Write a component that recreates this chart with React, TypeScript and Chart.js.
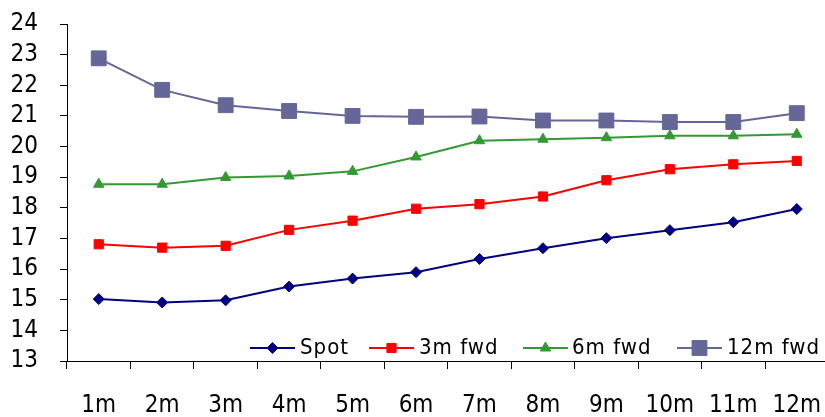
import React, { useEffect, useRef } from "react";
import { Chart, registerables } from "chart.js";
import { drawPoint } from "chart.js/helpers";

Chart.register(...registerables);

const categories = ["1m", "2m", "3m", "4m", "5m", "6m", "7m", "8m", "9m", "10m", "11m", "12m"];
const spot = [15.02, 14.91, 14.98, 15.43, 15.69, 15.9, 16.33, 16.68, 17.01, 17.27, 17.53, 17.96];
const fwd3m = [16.81, 16.7, 16.76, 17.28, 17.58, 17.97, 18.12, 18.37, 18.9, 19.26, 19.42, 19.53];
const fwd6m = [18.77, 18.77, 18.99, 19.04, 19.19, 19.66, 20.19, 20.24, 20.29, 20.35, 20.35, 20.4];
const fwd12m = [22.88, 21.85, 21.35, 21.16, 21.0, 20.97, 20.98, 20.85, 20.85, 20.8, 20.8, 21.09];
const seriesNames = ["Spot", "3m fwd", "6m fwd", "12m fwd"];
const yMin = 13;
const yMax = 24;
const yStep = 1;

const FONT = "'DejaVu Sans Condensed', 'DejaVu Sans', sans-serif";

const legendPlugin = {
  id: "insideLegend",
  afterDraw(chart: any) {
    const ctx = chart.ctx;
    const y = 348;
    const items = [
      { x0: 250, text: 300 },
      { x0: 369, text: 419 },
      { x0: 523, text: 572 },
      { x0: 677, text: 727 },
    ];
    ctx.save();
    chart.data.datasets.forEach((ds: any, i: number) => {
      const it = items[i];
      ctx.strokeStyle = ds.borderColor;
      ctx.lineWidth = ds.borderWidth;
      ctx.beginPath();
      ctx.moveTo(it.x0, y);
      ctx.lineTo(it.x0 + 45, y);
      ctx.stroke();
      ctx.fillStyle = ds.pointBackgroundColor;
      ctx.strokeStyle = ds.pointBorderColor;
      ctx.lineWidth = 1;
      drawPoint(ctx, { pointStyle: ds.pointStyle, radius: ds.pointRadius, borderWidth: 1, rotation: 0 }, it.x0 + 22.5, y);
      ctx.fillStyle = "#000";
      ctx.font = `22px ${FONT}`;
      try {
        (ctx as any).letterSpacing = "1px";
      } catch (e) {}
      ctx.textBaseline = "middle";
      ctx.textAlign = "left";
      ctx.fillText(ds.label, it.text, y);
      try {
        (ctx as any).letterSpacing = "0px";
      } catch (e) {}
    });
    ctx.restore();
  },
};

export default function App() {
  const ref = useRef<HTMLCanvasElement | null>(null);
  useEffect(() => {
    if (!ref.current) return;
    const mk = (label: string, data: number[], color: string, style: string, r: number, bw: number) => ({
      label,
      data,
      borderColor: color,
      backgroundColor: color,
      pointBackgroundColor: color,
      pointBorderColor: color,
      pointStyle: style,
      pointRadius: r,
      pointHoverRadius: r,
      borderWidth: bw,
      pointBorderWidth: 1,
      tension: 0,
    });
    const chart = new Chart(ref.current, {
      type: "line",
      data: {
        labels: categories,
        datasets: [
          mk(seriesNames[0], spot, "#000080", "rectRot", 5.5, 2),
          mk(seriesNames[1], fwd3m, "#FF0000", "rect", 6.5, 2),
          mk(seriesNames[2], fwd6m, "#339933", "triangle", 6, 2),
          mk(seriesNames[3], fwd12m, "#666699", "rect", 10.5, 2),
        ],
      },
      options: {
        animation: false,
        responsive: false,
        devicePixelRatio: 1,
        layout: { padding: { top: 24, right: 9, left: 0, bottom: 0 } },
        plugins: { legend: { display: false }, tooltip: { enabled: false } },
        scales: {
          x: {
            offset: true,
            grid: { display: true, drawOnChartArea: false, drawTicks: true, tickLength: 8, color: "#000", offset: true },
            border: { display: true, color: "#000", width: 1 },
            ticks: { color: "#000", font: { family: FONT, size: 24 }, padding: 22, maxRotation: 0, autoSkip: false },
            afterFit(scale: any) {
              scale.height = 56;
              scale.paddingLeft = 0;
              scale.paddingRight = 0;
            },
          },
          y: {
            min: yMin,
            max: yMax,
            grid: { display: true, drawOnChartArea: false, drawTicks: true, tickLength: 7, color: "#000" },
            border: { display: true, color: "#000", width: 1 },
            ticks: { stepSize: yStep, color: "#000", font: { family: FONT, size: 24 }, padding: 22, autoSkip: false },
            afterFit(scale: any) {
              scale.width = 67;
              scale.paddingTop = 0;
              scale.paddingBottom = 0;
            },
          },
        },
      },
      plugins: [legendPlugin],
    });
    return () => chart.destroy();
  }, []);
  return (
    <div style={{ position: "fixed", left: 0, top: 0, width: 825, height: 417, overflow: "hidden", background: "#fff" }}>
      <canvas ref={ref} width={840} height={417} style={{ width: 840, height: 417, display: "block" }} />
    </div>
  );
}
